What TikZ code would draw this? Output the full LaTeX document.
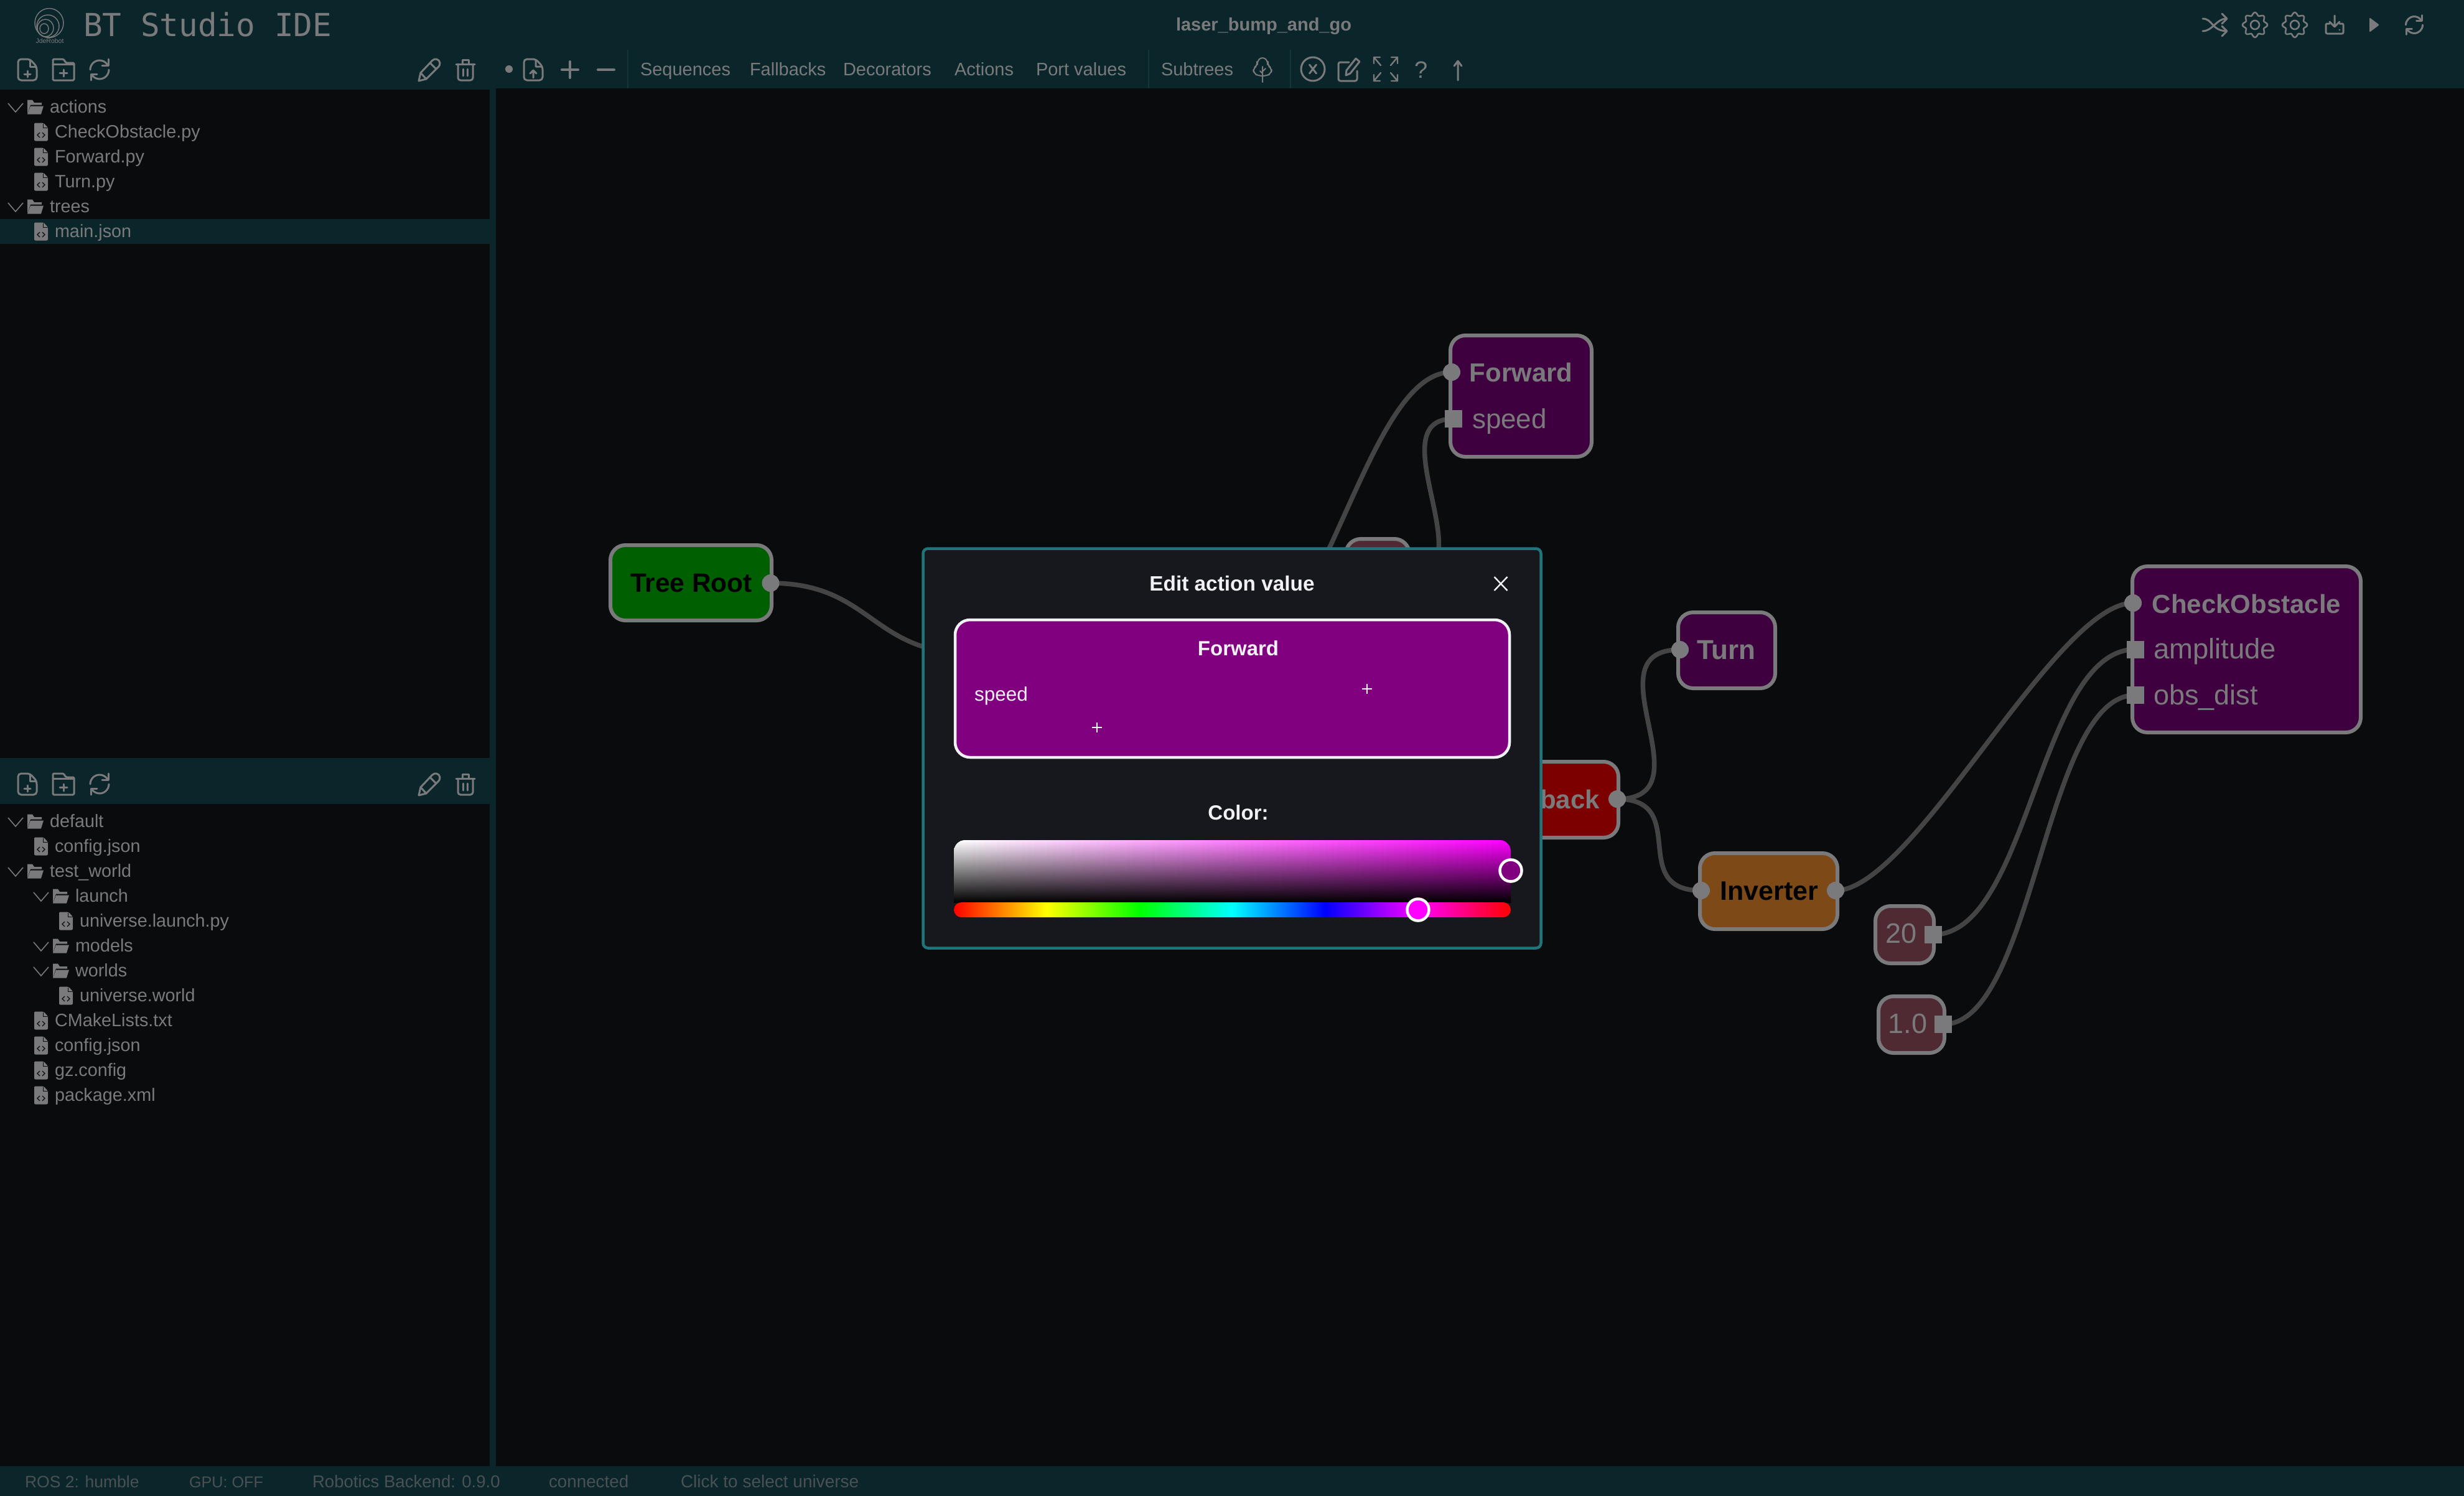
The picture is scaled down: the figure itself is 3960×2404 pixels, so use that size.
\documentclass[tikz,border=0pt]{standalone}
\usepackage{fontspec}
\setmainfont{Liberation Sans}
\newfontfamily\titlemono{DejaVu Sans Mono}
\usetikzlibrary{calc}
\definecolor{canvasbg}{HTML}{0A0B0D}
\definecolor{barteal}{HTML}{0A262A}
\definecolor{sepline}{HTML}{14363B}
\definecolor{dimgray}{HTML}{7A7A7C}
\definecolor{statusgray}{HTML}{4A5053}
\definecolor{wiregray}{HTML}{444444}
\definecolor{rootgreen}{HTML}{005F00}
\definecolor{actionpurple}{HTML}{3F003F}
\definecolor{fallbackred}{HTML}{7C0000}
\definecolor{inverterbrown}{HTML}{7D4A17}
\definecolor{valuemaroon}{HTML}{4F2A33}
\definecolor{dialogbg}{HTML}{16181D}
\definecolor{dialogedge}{HTML}{1F757A}
\definecolor{dialogtext}{HTML}{F0F0F5}
\definecolor{vivid}{HTML}{800080}
\definecolor{puremagenta}{rgb}{1,0,1}
\definecolor{purecyan}{rgb}{0,1,1}
\definecolor{pureyellow}{rgb}{1,1,0}
\definecolor{purered}{rgb}{1,0,0}
\definecolor{puregreen}{rgb}{0,1,0}
\definecolor{pureblue}{rgb}{0,0,1}
\pgfdeclarelayer{backlayer}
\pgfdeclarelayer{wirelayer}
\pgfdeclarelayer{toplayer}
\pgfsetlayers{backlayer,wirelayer,main,toplayer}
\pgfdeclarehorizontalshading{huebar}{100bp}{
  color(0bp)=(purered); color(25bp)=(purered); color(33.33bp)=(pureyellow); color(41.67bp)=(puregreen);
  color(50bp)=(purecyan); color(58.33bp)=(pureblue); color(66.67bp)=(puremagenta); color(75bp)=(purered); color(100bp)=(purered)}
\newcommand\pxfont[1]{\fontsize{#1pt}{#1pt}\selectfont}
\tikzset{
  txt/.style={inner sep=0,outer sep=0,anchor=base west,text=dimgray},
  ctxt/.style={inner sep=0,outer sep=0,anchor=base,text=dimgray},
  treetext/.style={txt,font=\pxfont{28.8}},
  menutext/.style={txt,font=\pxfont{29}},
  statustext/.style={txt,text=statusgray},
  btbox/.style={rectangle,rounded corners=24,draw=dimgray,line width=6,inner sep=0,outer sep=0},
  wire/.style={draw=wiregray,line width=7.5},
  portround/.style={circle,fill=dimgray,minimum size=28,inner sep=0,outer sep=0},
  portsquare/.style={rectangle,fill=dimgray,minimum size=28,inner sep=0,outer sep=0},
  bold42/.style={ctxt,font=\pxfont{42}\bfseries},
  ico/.style={draw=dimgray,line width=3,line join=round,line cap=round,fill=none},
  dlgtext/.style={ctxt,text=dialogtext},
  codefile/.pic={
    \fill[dimgray,rounded corners=2] (-11,-14.5) -- (4,-14.5) -- (11,-7) -- (11,14.5) -- (-11,14.5) -- cycle;
    \draw[canvasbg,line width=1] (3,-13) -- (3,-7) -- (10,-7);
    \draw[canvasbg,line width=1.2] (-2,1) -- (-6,5) -- (-2,9) (2,1) -- (6,5) -- (2,9);
  },
  openfolder/.pic={
    \fill[dimgray] (-13,11) -- (-13,-11.5) -- (-5,-11.5) -- (-2,-7) -- (10,-7) -- (10,-3.5) -- (-8,-3.5) -- cycle;
    \fill[dimgray] (-8,-1.5) -- (13,-1.5) -- (9,11.5) -- (-13,11.5) -- cycle;
  },
  chevronmark/.pic={\draw[dimgray,line width=1.6] (-12,-7) -- (0,7) -- (12,-7);},
  filenewicon/.pic={
    \draw[ico,rounded corners=5] (-15,-17) -- (4,-17) -- (15,-5) -- (15,17) -- (-15,17) -- cycle;
    \draw[ico] (4,-16) -- (4,-5) -- (14,-5) (0,2) -- (0,12) (-5,7) -- (5,7);
  },
  fileupicon/.pic={
    \draw[ico,rounded corners=5] (-15,-17) -- (4,-17) -- (15,-5) -- (15,17) -- (-15,17) -- cycle;
    \draw[ico] (4,-16) -- (4,-5) -- (14,-5) (0,13) -- (0,1) (-5,6) -- (0,1) -- (5,6);
  },
  foldernewicon/.pic={
    \draw[ico,rounded corners=1.5] (-17,-17) -- (0,-17) -- (4,-11) -- (17,-11) -- (17,17) -- (-17,17) -- cycle;
    \draw[ico] (-17,-9) -- (17,-9) (0,0) -- (0,11) (-6,5.5) -- (6,5.5);
  },
  refreshicon/.pic={
    \draw[ico] (-15,0) arc[start angle=180,end angle=325,radius=15];
    \draw[ico] (15,0) arc[start angle=0,end angle=145,radius=15];
    \draw[ico] (14,-17) -- (14,-7) -- (4,-7) (-14,17) -- (-14,7) -- (-4,7);
  },
  pencilicon/.pic={
    \draw[ico] (-17,18) -- (-14,5) -- (5,-15) .. controls (9,-19) and (16,-17) .. (17,-11) .. controls (17,-8) and (16,-6) .. (15,-5) -- (-5,15) -- cycle;
    \draw[ico] (-14,5) -- (-5,15) (1,-11) -- (11,-1);
  },
  trashicon/.pic={
    \draw[ico,rounded corners=4] (-12,-9) -- (-12,17) -- (12,17) -- (12,-9);
    \draw[ico] (-15,-9) -- (15,-9) (-5,-10) -- (-5,-16) -- (5,-16) -- (5,-10) (-3.5,-1) -- (-3.5,10) (3.5,-1) -- (3.5,10);
  },
  gearicon/.pic={
    \draw[ico,line width=2.6] plot[domain=0:360,samples=97,smooth] ({(17.7+2.3*cos(8*\x))*cos(\x)},{(17.7+2.3*cos(8*\x))*sin(\x)}) -- cycle;
    \draw[ico,line width=2.6] (0,0) circle[radius=7];
  },
  shuffleicon/.pic={
    \draw[ico] (-20,-10) .. controls (-4,-10) and (-6,9) .. (18,10);
    \draw[ico] (-20,10) .. controls (-4,10) and (2,-10) .. (18,-10);
    \draw[ico] (11,-18) -- (19,-10) -- (11,-2) (11,2) -- (19,10) -- (11,18);
  },
  downloadicon/.pic={
    \draw[ico] (0,-15) -- (0,3) (-8,-5) -- (0,3) -- (8,-5);
    \draw[ico,rounded corners=2] (-8,-2) -- (-14,-2) -- (-14,14) -- (14,14) -- (14,-2) -- (8,-2);
    \fill[dimgray] (8,8) circle[radius=1.3];
  },
  treeicon/.pic={
    \draw[ico,line width=2,rounded corners=6] (0,-20) -- (9,-13) -- (8,-6) -- (15,-1) -- (14,7) -- (6,11) -- (-6,11) -- (-14,7) -- (-15,-1) -- (-8,-6) -- (-9,-13) -- cycle;
    \draw[ico,line width=2] (0,-4) -- (0,21) (0,4) -- (5,-1) (0,7) -- (-4,3);
  },
  circlexicon/.pic={
    \draw[ico] (0,0) circle[radius=19];
    \draw[ico] (-5.5,-7) -- (5.5,7) (-5.5,7) -- (5.5,-7);
  },
  editicon/.pic={
    \draw[ico,rounded corners=3] (2,-12) -- (-15,-12) -- (-15,18) -- (15,18) -- (15,2);
    \draw[ico] (-3,9) -- (-2,1) -- (13,-18) -- (19,-13) -- (4,6) -- cycle;
  },
  expandicon/.pic={
    \draw[ico,line width=2.4] (-19,-9) -- (-19,-19) -- (-9,-19) (-19,-19) -- (-8,-6);
    \draw[ico,line width=2.4] (19,-9) -- (19,-19) -- (9,-19) (19,-19) -- (8,-6);
    \draw[ico,line width=2.4] (-19,9) -- (-19,19) -- (-9,19) (-19,19) -- (-8,6);
    \draw[ico,line width=2.4] (19,9) -- (19,19) -- (9,19) (19,19) -- (8,6);
  },
  upicon/.pic={\draw[ico] (0,17) -- (0,-14) (-6,-6) -- (0,-14) -- (6,-6);},
  filetools/.pic={
    \pic at (44,0) {filenewicon};
    \pic at (102,0) {foldernewicon};
    \pic at (160,0) {refreshicon};
    \pic at (690,0) {pencilicon};
    \pic at (748,0) {trashicon};
  },
}
\newcommand\folderrow[3]{%
  \pic at (#1,#2+1) {chevronmark};
  \pic at (#1+32,#2) {openfolder};
  \node[treetext] (row#2) at (#1+55,#2+9.5) {#3};}
\newcommand\filerow[3]{%
  \pic at (#1,#2) {codefile};
  \node[treetext] (row#2) at (#1+22,#2+9.5) {#3};}
\begin{document}
\begin{tikzpicture}[x=1pt,y=-1pt]
\useasboundingbox (0,0) rectangle (3960,2404);
\begin{pgfonlayer}{backlayer}
  \fill[canvasbg] (0,0) rectangle (3960,2404);
  \fill[barteal] (0,0) rectangle (3960,142);
  \fill[barteal] (0,142) rectangle (787,144);
  \fill[barteal] (787,142) rectangle (797,2356);
  \fill[barteal] (0,1218) rectangle (797,1292);
  \fill[barteal] (0,352) rectangle (797,392);
  \fill[barteal] (0,2356) rectangle (3960,2404);
  \draw[sepline,line width=1.5] (1009,80) -- (1009,142) (1846,80) -- (1846,142) (2074,80) -- (2074,142);
\end{pgfonlayer}

% ---- header
\draw[dimgray,line width=1.4] (79,37) ellipse[x radius=23,y radius=23.5];
\draw[dimgray,line width=1.4] (77,42) ellipse[x radius=18,y radius=18];
\draw[dimgray,line width=1.4] (73,45) ellipse[x radius=13,y radius=14];
\draw[dimgray,line width=1.4] (71,46) ellipse[x radius=7,y radius=8];
\node[ctxt,font=\pxfont{10.5}] (logotext) at (80,69) {JdeRobot};
\node[txt,font=\titlemono\pxfont{51}] (apptitle) at (134,58) {BT Studio IDE};
\node[ctxt,font=\pxfont{29}\bfseries] (project) at (2031,49) {laser\_bump\_and\_go};
\pic at (3560,40) {shuffleicon};
\pic at (3624,40) {gearicon};
\pic at (3688,40) {gearicon};
\pic at (3752,40) {downloadicon};
\fill[dimgray,rounded corners=1.5] (3808,28) -- (3824,40) -- (3808,52) -- cycle;
\pic[scale=0.9] at (3880,40) {refreshicon};

% ---- toolbars
\pic at (0,112) {filetools};
\fill[dimgray] (818,111) circle[radius=6];
\pic at (857,112) {fileupicon};
\draw[dimgray,line width=4,line cap=round] (916,99) -- (916,125) (903,112) -- (929,112);
\draw[dimgray,line width=4,line cap=round] (961,112) -- (987,112);
\node[menutext] (mseq) at (1029,121) {Sequences};
\node[menutext] (mfal) at (1205,121) {Fallbacks};
\node[menutext] (mdec) at (1355,121) {Decorators};
\node[menutext] (mact) at (1534,121) {Actions};
\node[menutext] (mpor) at (1665,121) {Port values};
\node[menutext] (msub) at (1866,121) {Subtrees};
\pic at (2029,111) {treeicon};
\pic at (2110,111) {circlexicon};
\pic at (2166,112) {editicon};
\pic at (2227,111) {expandicon};
\node[ctxt,font=\pxfont{38}] (helpmark) at (2284,125) {?};
\pic at (2343,112) {upicon};

% ---- file trees
\folderrow{25}{172}{actions}
\filerow{66}{212}{CheckObstacle.py}
\filerow{66}{252}{Forward.py}
\filerow{66}{292}{Turn.py}
\folderrow{25}{332}{trees}
\filerow{66}{372}{main.json}
\pic at (0,1260) {filetools};
\folderrow{25}{1320}{default}
\filerow{66}{1360}{config.json}
\folderrow{25}{1400}{test\_world}
\folderrow{66}{1440}{launch}
\filerow{106}{1480}{universe.launch.py}
\folderrow{66}{1520}{models}
\folderrow{66}{1560}{worlds}
\filerow{106}{1600}{universe.world}
\filerow{66}{1640}{CMakeLists.txt}
\filerow{66}{1680}{config.json}
\filerow{66}{1720}{gz.config}
\filerow{66}{1760}{package.xml}

% ---- status bar
\node[statustext,font=\pxfont{26.5}] (s1) at (40,2390) {ROS 2: humble};
\node[statustext,font=\pxfont{25.2}] (s2) at (304,2390) {GPU: OFF};
\node[statustext,font=\pxfont{27.6}] (s3) at (502,2390) {Robotics Backend: 0.9.0};
\node[statustext,font=\pxfont{27.8}] (s4) at (882,2390) {connected};
\node[statustext,font=\pxfont{28}] (s5) at (1094,2390) {Click to select universe};

% ---- behaviour tree nodes
\node[btbox,fill=rootgreen,minimum width=259,minimum height=121] (root) at (1110.5,936.5) {};
\node[ctxt,text=black,font=\pxfont{42.5}\bfseries] (rootlabel) at (1111,951) {Tree Root};
\node[portround] (rootout) at (1238.5,937) {};

\node[btbox,fill=valuemaroon,minimum width=102,minimum height=90] (speedvalue) at (2214,911) {};

\node[btbox,fill=actionpurple,minimum width=227,minimum height=195] (forward) at (2444.5,636.5) {};
\node[bold42] (forwardlabel) at (2444.5,613) {Forward};
\node[txt,font=\pxfont{44}] (speedlabel) at (2366,688) {speed};
\node[portround] (forwardin) at (2333,598) {};
\node[portsquare] (speedin) at (2336,673) {};

\node[btbox,fill=fallbackred,minimum width=298,minimum height=122] (fallback) at (2452,1285) {};
\node[inner sep=0,outer sep=0,anchor=base east,text=dimgray,font=\pxfont{42}\bfseries] (fallbacklabel) at (2571,1299) {Fallback};
\node[portround] (fallbackout) at (2599,1284) {};

\node[btbox,fill=actionpurple,minimum width=156,minimum height=122] (turn) at (2775,1045) {};
\node[ctxt,font=\pxfont{44}\bfseries] (turnlabel) at (2774.5,1059) {Turn};
\node[portround] (turnin) at (2700,1044) {};

\node[btbox,fill=inverterbrown,minimum width=221,minimum height=122] (inverter) at (2842.5,1432) {};
\node[ctxt,text=black,font=\pxfont{43}\bfseries] (inverterlabel) at (2843.5,1446) {Inverter};
\node[portround] (inverterin) at (2734,1431) {};
\node[portround] (inverterout) at (2950,1431) {};

\node[btbox,fill=actionpurple,minimum width=367,minimum height=267] (check) at (3610.5,1043.5) {};
\node[ctxt,font=\pxfont{42}\bfseries] (checklabel) at (3610.5,985) {CheckObstacle};
\node[txt,font=\pxfont{45.5}] (amplabel) at (3461,1058) {amplitude};
\node[txt,font=\pxfont{45}] (obslabel) at (3461,1132) {obs\_dist};
\node[portround] (checkin) at (3428,969) {};
\node[portsquare] (ampin) at (3431.5,1043.5) {};
\node[portsquare] (obsin) at (3431.5,1117) {};

\node[btbox,fill=valuemaroon,minimum width=94,minimum height=92] (value20) at (3061,1502) {};
\node[ctxt,font=\pxfont{45}] (value20label) at (3055,1515) {20};
\node[portsquare] (value20out) at (3106.5,1502) {};

\node[btbox,fill=valuemaroon,minimum width=106,minimum height=91] (value10) at (3072,1646.5) {};
\node[ctxt,font=\pxfont{45}] (value10label) at (3066,1660) {1.0};
\node[portsquare] (value10out) at (3123,1646) {};

% ---- connectors
\begin{pgfonlayer}{wirelayer}
  \coordinate (sequencein) at (1560,1050);
  \coordinate (sequenceout) at (2125,905);
  \coordinate (speedout) at (2266,925);
  \draw[wire] (rootout.center) .. controls +(162,0) and +(-160,0) .. (sequencein);
  \draw[wire] (sequenceout) .. controls +(70,-147) and +(-83,0) .. (forwardin.center);
  \draw[wire] (speedout) .. controls +(124,0) and +(-124,0) .. (speedin.center);
  \draw[wire] (fallbackout.center) .. controls +(150,0) and +(-150,0) .. (turnin.center);
  \draw[wire] (fallbackout.center) .. controls +(120,0) and +(-120,0) .. (inverterin.center);
  \draw[wire] (inverterout.center) .. controls +(125,0) and +(-125,0) .. (checkin.center);
  \draw[wire] (value20out.center) .. controls +(155,0) and +(-155,0) .. (ampin.center);
  \draw[wire] (value10out.center) .. controls +(147,0) and +(-147,0) .. (obsin.center);
\end{pgfonlayer}

% ---- dialog
\begin{pgfonlayer}{toplayer}
  \node[rectangle,rounded corners=8,draw=dialogedge,fill=dialogbg,line width=4.5,inner sep=0,outer sep=0,minimum width=993,minimum height=642] (dialog) at (1980,1202.5) {};
  \node[dlgtext,font=\pxfont{33.4}\bfseries] (dialogtitle) at (1980,949.5) {Edit action value};
  \draw[dialogtext,line width=2.4] (2401.5,927) -- (2422.5,949) (2401.5,949) -- (2422.5,927);
  \node[rectangle,rounded corners=24,draw=dialogtext,fill=vivid,line width=4.5,inner sep=0,outer sep=0,minimum width=891,minimum height=221] (preview) at (1980.5,1106.5) {};
  \node[dlgtext,font=\pxfont{33}\bfseries] (previewname) at (1990,1053) {Forward};
  \node[txt,text=dialogtext,font=\pxfont{31.5}] (previewport) at (1566,1126) {speed};
  \draw[dialogtext,line width=1.5] (2189,1107) -- (2205,1107) (2197,1099) -- (2197,1115);
  \draw[dialogtext,line width=1.5] (1755,1169) -- (1771,1169) (1763,1161) -- (1763,1177);
  \node[dlgtext,font=\pxfont{33}\bfseries] (colorlabel) at (1990,1317) {Color:};
  \begin{scope}
    \clip[rounded corners=18] (1533,1350) rectangle (2428,1490);
    \foreach \i in {0,...,89}{
      \pgfmathsetmacro\pct{\i/89*100}
      \shade[top color=puremagenta!\pct!white,bottom color=black] (1533+\i*9.95,1350) rectangle ++(11,100);
    }
  \end{scope}
  \shade[shading=huebar,rounded corners=12] (1533,1450) rectangle (2428,1474);
  \node[circle,draw=white,fill=vivid,line width=4.5,minimum size=35,inner sep=0,outer sep=0] (satknob) at (2428,1399) {};
  \node[circle,draw=white,fill=puremagenta,line width=4.5,minimum size=35,inner sep=0,outer sep=0] (hueknob) at (2279,1462) {};
\end{pgfonlayer}
\end{tikzpicture}
\end{document}
